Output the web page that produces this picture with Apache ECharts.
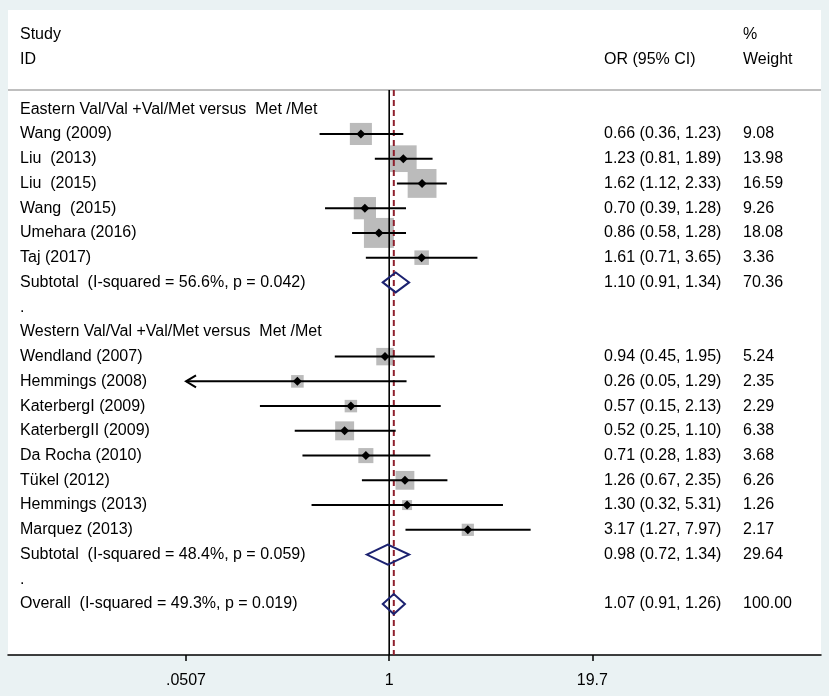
<!DOCTYPE html>
<html>
<head>
<meta charset="utf-8">
<title>Forest plot</title>
<script src="https://cdn.jsdelivr.net/npm/echarts@6/dist/echarts.min.js"></script>
<style>
  html, body { margin: 0; padding: 0; background: #eaf2f3; }
  #chart { width: 829px; height: 696px; }
</style>
</head>
<body>
<div id="chart"></div>
<script>
// rows of the table, top to bottom (row 0 = first group heading)
const studyLabels = [
  'Eastern Val/Val +Val/Met versus  Met /Met',
  'Wang (2009)',
  'Liu  (2013)',
  'Liu  (2015)',
  'Wang  (2015)',
  'Umehara (2016)',
  'Taj (2017)',
  'Subtotal  (I-squared = 56.6%, p = 0.042)',
  '.',
  'Western Val/Val +Val/Met versus  Met /Met',
  'Wendland (2007)',
  'Hemmings (2008)',
  'KaterbergI (2009)',
  'KaterbergII (2009)',
  'Da Rocha (2010)',
  'Tükel (2012)',
  'Hemmings (2013)',
  'Marquez (2013)',
  'Subtotal  (I-squared = 48.4%, p = 0.059)',
  '.',
  'Overall  (I-squared = 49.3%, p = 0.019)'
];
const rowKind = [
  'group', 'study', 'study', 'study', 'study', 'study', 'study', 'pooled', 'gap',
  'group', 'study', 'study', 'study', 'study', 'study', 'study', 'study', 'study', 'pooled', 'gap',
  'pooled'
];
const orValues = [null, 0.66, 1.23, 1.62, 0.70, 0.86, 1.61, 1.10, null,
  null, 0.94, 0.26, 0.57, 0.52, 0.71, 1.26, 1.30, 3.17, 0.98, null, 1.07];
const ciLower = [null, 0.36, 0.81, 1.12, 0.39, 0.58, 0.71, 0.91, null,
  null, 0.45, 0.05, 0.15, 0.25, 0.28, 0.67, 0.32, 1.27, 0.72, null, 0.91];
const ciUpper = [null, 1.23, 1.89, 2.33, 1.28, 1.28, 3.65, 1.34, null,
  null, 1.95, 1.29, 2.13, 1.10, 1.83, 2.35, 5.31, 7.97, 1.34, null, 1.26];
const weights = [null, 9.08, 13.98, 16.59, 9.26, 18.08, 3.36, 70.36, null,
  null, 5.24, 2.35, 2.29, 6.38, 3.68, 6.26, 1.26, 2.17, 29.64, null, 100.00];

const headerLeft = ['Study', 'ID'];
const headerMid = ['', 'OR (95% CI)'];
const headerRight = ['%', 'Weight'];

const tickValues = [0.0507, 1, 19.7];
const tickLabels = ['.0507', '1', '19.7'];
const overallOR = 1.07;
const nullValue = 1;

// layout
const X_MIN = 0.00372, X_MAX = 565;      // log axis spans whole panel
const Y_MIN = -4.01, Y_MAX = 22.06;      // row units
const SEP_ROW = -0.78;
const NAME_X = 20, OR_X = 604, W_X = 743;
const FONT = '16px "Liberation Sans", Arial, sans-serif';
const BOX_COLOR = '#bbbbbb';
const NAVY = '#1c2270';
const clipLo = tickValues[0], clipHi = tickValues[tickValues.length - 1];

const chart = echarts.init(document.getElementById('chart'), null, { renderer: 'canvas' });

function txt(s, x, y) {
  return {
    type: 'text',
    style: { text: s, x: x, y: y, font: FONT, fill: '#000', align: 'left', verticalAlign: 'middle' }
  };
}

const boxSeries = {
  type: 'custom',
  z: 2,
  silent: true,
  data: studyLabels.map((_, i) => [orValues[i] || 1, i]),
  renderItem: function (params, api) {
    const i = params.dataIndex;
    if (rowKind[i] !== 'study') return;
    const c = api.coord([orValues[i], i]);
    const side = 2.8 + 6.39 * Math.sqrt(weights[i]);
    return {
      type: 'rect',
      shape: { x: c[0] - side / 2, y: c[1] - side / 2, width: side, height: side },
      style: { fill: BOX_COLOR }
    };
  }
};

const rowSeries = {
  type: 'custom',
  z: 5,
  silent: true,
  data: studyLabels.map((_, i) => [orValues[i] || 1, i]),
  renderItem: function (params, api) {
    const i = params.dataIndex;
    const y = api.coord([1, i])[1];
    const children = [txt(studyLabels[i], NAME_X, y)];
    const kind = rowKind[i];
    if (kind === 'study' || kind === 'pooled') {
      children.push(txt(orValues[i].toFixed(2) + ' (' + ciLower[i].toFixed(2) + ', ' + ciUpper[i].toFixed(2) + ')', OR_X, y));
      children.push(txt(weights[i].toFixed(2), W_X, y));
      const lo = api.coord([Math.max(ciLower[i], clipLo), i]);
      const hi = api.coord([Math.min(ciUpper[i], clipHi), i]);
      const c = api.coord([orValues[i], i]);
      if (kind === 'study') {
        children.push({
          type: 'line',
          shape: { x1: lo[0], y1: y, x2: hi[0], y2: y },
          style: { stroke: '#000', lineWidth: 2 }
        });
        if (ciLower[i] < clipLo) {
          children.push({
            type: 'polyline',
            shape: { points: [[lo[0] + 10, y - 6], [lo[0], y], [lo[0] + 10, y + 6]] },
            style: { stroke: '#000', lineWidth: 2, fill: null }
          });
        }
        const d = 4.5;
        children.push({
          type: 'polygon',
          shape: { points: [[c[0], y - d], [c[0] + d, y], [c[0], y + d], [c[0] - d, y]] },
          style: { fill: '#000' }
        });
      } else {
        const h = 10;
        children.push({
          type: 'polygon',
          shape: { points: [[lo[0], y], [c[0], y - h], [hi[0], y], [c[0], y + h]] },
          style: { stroke: NAVY, lineWidth: 2, fill: null }
        });
      }
    }
    return { type: 'group', children: children };
  }
};

const headerSeries = {
  type: 'custom',
  z: 5,
  silent: true,
  data: headerLeft.map((_, k) => [1, k - 3]),
  renderItem: function (params, api) {
    const k = params.dataIndex;
    const y = api.coord([1, k - 3])[1];
    return {
      type: 'group',
      children: [txt(headerLeft[k], NAME_X, y), txt(headerMid[k], OR_X, y), txt(headerRight[k], W_X, y)]
    };
  }
};

chart.setOption({
  backgroundColor: '#eaf2f3',
  animation: false,
  grid: {
    left: 8, right: 8, top: 10, bottom: 41,
    show: true, backgroundColor: '#ffffff', borderWidth: 0
  },
  xAxis: {
    type: 'log',
    logBase: 10,
    min: X_MIN,
    max: X_MAX,
    splitLine: { show: false },
    axisLine: { show: true, onZero: false, lineStyle: { color: '#000', width: 1.5 } },
    axisTick: { show: true, customValues: tickValues, length: 6, lineStyle: { color: '#000', width: 1.5 } },
    axisLabel: {
      customValues: tickValues,
      margin: 18,
      fontSize: 16,
      fontFamily: '"Liberation Sans", Arial, sans-serif',
      color: '#000',
      formatter: function (v) {
        let best = 0;
        tickValues.forEach((t, k) => {
          if (Math.abs(Math.log(t) - Math.log(v)) < Math.abs(Math.log(tickValues[best]) - Math.log(v))) best = k;
        });
        return tickLabels[best];
      }
    }
  },
  yAxis: {
    type: 'value',
    inverse: true,
    min: Y_MIN,
    max: Y_MAX,
    show: false
  },
  series: [
    boxSeries,
    {
      // header separator
      type: 'line', z: 3, silent: true, symbol: 'none',
      data: [[X_MIN, SEP_ROW], [X_MAX, SEP_ROW]],
      lineStyle: { color: '#aaaaaa', width: 1.5 }
    },
    {
      // line of no effect
      type: 'line', z: 3, silent: true, symbol: 'none',
      data: [[nullValue, SEP_ROW], [nullValue, Y_MAX]],
      lineStyle: { color: '#000', width: 1.6 }
    },
    {
      // overall estimate
      type: 'line', z: 3, silent: true, symbol: 'none',
      data: [[overallOR, SEP_ROW], [overallOR, Y_MAX]],
      lineStyle: { color: '#8e1f2c', width: 2, type: [6, 4] }
    },
    rowSeries,
    headerSeries
  ]
});
</script>
</body>
</html>
